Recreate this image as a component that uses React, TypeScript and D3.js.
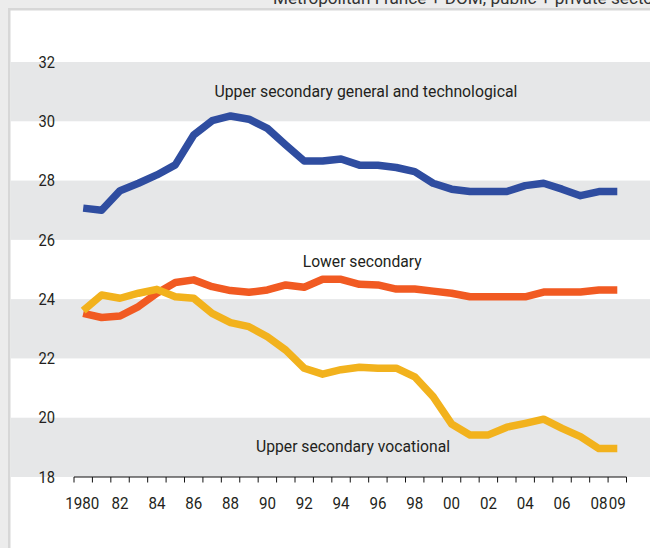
import React from "react";
import * as d3 from "d3";

const years: number[] = d3.range(1980, 2010);
const tickLabelYears: number[] = [1980, 1982, 1984, 1986, 1988, 1990, 1992, 1994, 1996, 1998, 2000, 2002, 2004, 2006, 2008, 2009];
const tickLabels: string[] = ["1980", "82", "84", "86", "88", "90", "92", "94", "96", "98", "00", "02", "04", "06", "08", "09"];
const yTicks: number[] = [18, 20, 22, 24, 26, 28, 30, 32];

const generalTech: number[] = [
  27.07, 27.0, 27.66, 27.91, 28.19, 28.53, 29.54, 30.02, 30.18, 30.07,
  29.76, 29.2, 28.66, 28.66, 28.73, 28.52, 28.52, 28.44, 28.3, 27.91,
  27.71, 27.63, 27.63, 27.63, 27.83, 27.91, 27.71, 27.49, 27.63, 27.63,
];
const lowerSecondary: number[] = [
  23.52, 23.38, 23.43, 23.75, 24.2, 24.56, 24.65, 24.42, 24.29, 24.23,
  24.31, 24.48, 24.4, 24.67, 24.67, 24.5, 24.48, 24.34, 24.34, 24.27,
  24.2, 24.08, 24.08, 24.08, 24.08, 24.24, 24.24, 24.24, 24.31, 24.31,
];
const vocational: number[] = [
  23.61, 24.14, 24.03, 24.2, 24.33, 24.08, 24.03, 23.52, 23.21, 23.07,
  22.73, 22.28, 21.67, 21.47, 21.62, 21.7, 21.67, 21.67, 21.38, 20.71,
  19.79, 19.42, 19.42, 19.68, 19.81, 19.95, 19.64, 19.36, 18.96, 18.96,
];

const seriesNames: string[] = [
  "Upper secondary general and technological",
  "Lower secondary",
  "Upper secondary vocational",
];
const subtitle = "Metropolitan France + DOM, public + private sector";

const FONT = "Roboto, 'Liberation Sans', sans-serif";
const TEXT = "#231f20";

export default function App() {
  const W = 650;
  const H = 548;
  const x = d3.scaleBand<number>().domain(years).range([74, 626.5]).padding(0);
  const xc = (yr: number) => (x(yr) as number) + x.bandwidth() / 2;
  const xLin = d3.scaleLinear().domain([1980, 2009]).range([xc(1980), xc(2009)]);
  const y = d3.scaleLinear().domain([18, 32]).range([477, 62]);

  const line = d3
    .line<number>()
    .x((_, i) => xc(years[i]))
    .y((d) => y(d));

  const series = [
    { name: seriesNames[2], data: vocational, color: "#f2b21d" },
    { name: seriesNames[1], data: lowerSecondary, color: "#f15a22" },
    { name: seriesNames[0], data: generalTech, color: "#2f4da0" },
  ];
  const order = [series[1], series[0], series[2]];

  const bands = [18, 22, 26, 30];
  const tickPositions = [...years.map((yr) => x(yr) as number), x.range()[1]];

  const labelProps = {
    fontSize: 16.5,
    fill: TEXT,
    textAnchor: "middle" as const,
    lengthAdjust: "spacingAndGlyphs" as const,
  };

  return (
    <svg
      width={W}
      height={H}
      style={{ position: "absolute", left: 0, top: 0, display: "block" }}
      fontFamily={FONT}
    >
      <rect x={0} y={0} width={W} height={H} fill="#ececec" />
      <rect x={8} y={8} width={W} height={H} fill="#d7d7d7" />
      <rect x={10.5} y={10.5} width={W} height={H} fill="#ffffff" />
      <text x={273} y={4} fontSize={16.5} fill="#333" textLength={386} lengthAdjust="spacingAndGlyphs">
        {subtitle}
      </text>

      {bands.map((b) => (
        <rect key={b} x={10.5} y={y(b + 2)} width={W} height={y(b) - y(b + 2)} fill="#e6e7e8" />
      ))}

      {yTicks.map((t) => (
        <text
          key={t}
          x={55}
          y={y(t)}
          dy="0.36em"
          textAnchor="end"
          fontSize={16}
          fill={TEXT}
          textLength={16.5}
          lengthAdjust="spacingAndGlyphs"
        >
          {t}
        </text>
      ))}

      <line x1={x.range()[0]} x2={x.range()[1]} y1={y(18)} y2={y(18)} stroke="#111" strokeWidth={1.2} />
      {tickPositions.map((p, i) => (
        <line key={i} x1={p} x2={p} y1={y(18)} y2={y(18) + 5.5} stroke="#111" strokeWidth={1} />
      ))}
      {tickLabelYears.map((yr, i) => (
        <text
          key={yr}
          x={xc(yr) + (i === 0 ? -1 : 0)}
          y={508.5}
          textAnchor="middle"
          fontSize={16}
          fill={TEXT}
          textLength={tickLabels[i].length > 2 ? 34 : 17}
          lengthAdjust="spacingAndGlyphs"
        >
          {tickLabels[i]}
        </text>
      ))}

      {order.map((s) => (
        <path
          key={s.name}
          d={line(s.data) || ""}
          fill="none"
          stroke={s.color}
          strokeWidth={7.5}
          strokeLinejoin="round"
          strokeLinecap="butt"
        />
      ))}

      <text x={xLin(1995.35)} y={y(30.82)} textLength={303} {...labelProps}>
        {seriesNames[0]}
      </text>
      <text x={xLin(1995.15)} y={y(25.07)} textLength={119} {...labelProps}>
        {seriesNames[1]}
      </text>
      <text x={xLin(1994.65)} y={y(18.84)} textLength={194} {...labelProps}>
        {seriesNames[2]}
      </text>
    </svg>
  );
}
